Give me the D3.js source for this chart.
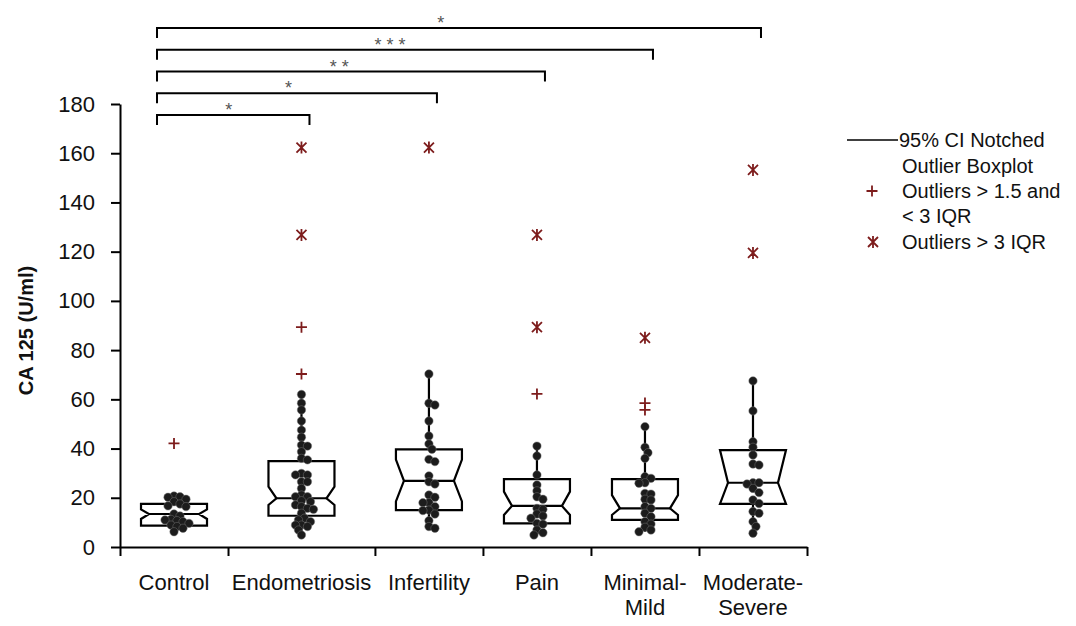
<!DOCTYPE html>
<html>
<head>
<meta charset="utf-8">
<script src="https://cdn.jsdelivr.net/npm/d3@7"></script>
<style>
  html, body { margin: 0; padding: 0; background: #ffffff; }
  svg { display: block; font-family: "Liberation Sans", Arial, sans-serif; }
</style>
</head>
<body>
<svg id="chart" width="1076" height="626"></svg>
<script>
// ---------------- DATA ----------------
const categories = ["Control", "Endometriosis", "Infertility", "Pain", "Minimal-Mild", "Moderate-Severe"];
const categoryLabels = [["Control"], ["Endometriosis"], ["Infertility"], ["Pain"], ["Minimal-", "Mild"], ["Moderate-", "Severe"]];

const q1Values     = [8.7, 12.7, 15.0, 9.6, 11.0, 17.5];
const medianValues = [13.4, 19.8, 26.9, 16.7, 15.7, 26.1];
const q3Values     = [17.5, 34.9, 39.7, 27.6, 27.6, 39.4];
const notchLow     = [11.4, 17.1, 18.5, 13.0, 13.0, 17.5];
const notchHigh    = [15.3, 24.5, 35.5, 22.5, 21.1, 39.4];

const controlPoints = [20.7, 20.4, 20.2, 19.4, 18.4, 17.5, 16.7, 16.4, 13.4, 12.6, 11.2, 11.0, 10.7, 10.3, 9.6, 8.9, 8.3, 7.6, 6.2];
const endometriosisPoints = [62.0, 58.4, 55.7, 51.2, 47.5, 44.6, 41.4, 41.0, 38.7, 36.0, 35.4, 29.9, 29.3, 29.3, 26.5, 26.5, 23.8, 21.1, 20.4, 20.4, 18.8, 18.4, 17.1, 16.4, 15.7, 15.3, 13.7, 11.7, 11.0, 10.3, 8.9, 8.9, 8.3, 6.9, 4.9];
const infertilityPoints = [70.3, 58.4, 57.7, 51.2, 45.1, 41.9, 39.7, 35.6, 34.7, 28.9, 26.5, 25.6, 21.1, 20.2, 18.0, 18.0, 16.4, 15.0, 14.8, 13.4, 10.7, 8.3, 7.6];
const painPoints = [41.0, 37.0, 29.3, 25.2, 22.8, 20.4, 19.4, 15.7, 15.3, 13.4, 12.6, 11.7, 9.6, 9.3, 6.9, 5.8, 4.9];
const minimalMildPoints = [48.9, 40.5, 38.3, 36.0, 28.6, 27.9, 26.1, 25.9, 21.8, 21.5, 19.4, 19.1, 16.4, 15.7, 13.7, 12.3, 10.3, 9.3, 8.0, 6.9, 6.2];
const moderateSeverePoints = [67.5, 55.3, 42.8, 40.5, 37.4, 33.7, 33.3, 26.1, 26.1, 25.6, 23.8, 22.1, 19.1, 17.7, 14.4, 13.7, 10.3, 8.3, 5.6];

const mildOutliers    = [[42.1], [89.3, 70.3], [], [62.2], [58.5, 55.7], []];
const extremeOutliers = [[], [162.3, 126.8], [162.3], [126.8, 89.3], [85.0], [153.2, 119.5]];

const sigGroups = ["Endometriosis", "Infertility", "Pain", "Minimal-Mild", "Moderate-Severe"];
const sigLabels = ["*", "*", "* *", "* * *", "*"];

const yTicks = [0, 20, 40, 60, 80, 100, 120, 140, 160, 180];
const yTitle = "CA 125 (U/ml)";
const legendLabels = [["95% CI Notched", "Outlier Boxplot"], ["Outliers > 1.5 and", "< 3 IQR"], ["Outliers > 3 IQR"]];

// ---------------- LAYOUT ----------------
const svg = d3.select("#chart");
const pointsByGroup = [controlPoints, endometriosisPoints, infertilityPoints, painPoints, minimalMildPoints, moderateSeverePoints];
const bandWeights = [1, 1.36, 1, 1, 1, 1];
const cum = [0]; bandWeights.forEach(w => cum.push(cum[cum.length - 1] + w));
const xUnit = d3.scaleLinear().domain([0, cum[cum.length - 1]]).range([120, 807]);
const xCenter = i => xUnit(cum[i] + bandWeights[i] / 2);
const y = d3.scaleLinear().domain([0, 180]).range([547, 104]);

const outlierColor = "#7d1c1c";
const boxW = 66, notchInset = 8;

// Y axis
const yAxisG = svg.append("g").attr("transform", "translate(120,0)")
  .call(d3.axisLeft(y).tickValues(yTicks).tickSize(9).tickSizeOuter(0).tickPadding(16));
yAxisG.select(".domain").attr("stroke", "#000").attr("stroke-width", 2);
yAxisG.selectAll(".tick line").attr("stroke", "#000").attr("stroke-width", 2);
yAxisG.selectAll(".tick text").attr("font-size", 22).attr("fill", "#111")
  .attr("font-family", "Liberation Sans, Arial, sans-serif");

// X axis (category boundaries)
const xAxisG = svg.append("g").attr("transform", `translate(0,${y(0)})`)
  .call(d3.axisBottom(xUnit).tickValues(cum).tickSize(9).tickSizeOuter(0).tickFormat(""));
xAxisG.select(".domain").attr("stroke", "#000").attr("stroke-width", 2);
xAxisG.selectAll(".tick line").attr("stroke", "#000").attr("stroke-width", 2);

// Category labels
categoryLabels.forEach((lines, i) => {
  const t = svg.append("text").attr("x", xCenter(i)).attr("y", 590)
    .attr("text-anchor", "middle").attr("font-size", 22).attr("fill", "#111");
  lines.forEach((ln, k) => t.append("tspan").attr("x", xCenter(i)).attr("dy", k === 0 ? 0 : 25).text(ln));
});

// Y title
svg.append("text").attr("transform", `translate(33,${(y(0) + y(180)) / 2 + 5}) rotate(-90)`)
  .attr("text-anchor", "middle").attr("font-size", 20).attr("font-weight", "bold").attr("fill", "#111")
  .text(yTitle);

// Boxes
categories.forEach((c, i) => {
  const cx = xCenter(i);
  const pts = pointsByGroup[i];
  const g = svg.append("g");
  // whiskers
  g.append("line").attr("x1", cx).attr("x2", cx).attr("y1", y(q3Values[i])).attr("y2", y(d3.max(pts)))
    .attr("stroke", "#000").attr("stroke-width", 2.2);
  g.append("line").attr("x1", cx).attr("x2", cx).attr("y1", y(q1Values[i])).attr("y2", y(d3.min(pts)))
    .attr("stroke", "#000").attr("stroke-width", 2.2);
  // notched box
  const L = cx - boxW / 2, R = cx + boxW / 2;
  const nh = Math.min(notchHigh[i], q3Values[i]), nl = Math.max(notchLow[i], q1Values[i]);
  const p = d3.path();
  p.moveTo(L, y(q3Values[i])); p.lineTo(R, y(q3Values[i]));
  p.lineTo(R, y(nh)); p.lineTo(R - notchInset, y(medianValues[i])); p.lineTo(R, y(nl));
  p.lineTo(R, y(q1Values[i])); p.lineTo(L, y(q1Values[i]));
  p.lineTo(L, y(nl)); p.lineTo(L + notchInset, y(medianValues[i])); p.lineTo(L, y(nh));
  p.closePath();
  g.append("path").attr("d", p.toString()).attr("fill", "none").attr("stroke", "#000").attr("stroke-width", 2.2)
    .attr("stroke-linejoin", "miter");
  g.append("line").attr("x1", L + notchInset).attr("x2", R - notchInset)
    .attr("y1", y(medianValues[i])).attr("y2", y(medianValues[i])).attr("stroke", "#000").attr("stroke-width", 2.2);

  // beeswarm points (deterministic placement)
  const placed = [];
  const minDist = 5.5;
  pts.forEach(v => {
    const py = y(v);
    let chosen = 0;
    for (let k = 0; k < 40; k++) {
      const off = (k === 0) ? 0 : (k % 2 === 1 ? 1 : -1) * Math.ceil(k / 2) * 3;
      const px = cx + off;
      if (placed.every(q => Math.hypot(q[0] - px, q[1] - py) >= minDist)) { chosen = off; break; }
    }
    placed.push([cx + chosen, py]);
  });
  g.selectAll("circle.pt").data(placed).join("circle").attr("class", "pt")
    .attr("cx", d => d[0]).attr("cy", d => d[1]).attr("r", 4.2)
    .attr("fill", "#1c1c1c").attr("stroke", "#777").attr("stroke-width", 0.8).attr("stroke-opacity", 0.6);

  // outliers
  mildOutliers[i].forEach(v => drawPlus(svg, cx, y(v)));
  extremeOutliers[i].forEach(v => drawStar(svg, cx, y(v)));
});

function drawPlus(sel, x0, y0) {
  const s = 5.5;
  sel.append("path").attr("d", `M${x0 - s},${y0}H${x0 + s}M${x0},${y0 - s}V${y0 + s}`)
    .attr("stroke", outlierColor).attr("stroke-width", 1.8).attr("fill", "none");
}
function drawStar(sel, x0, y0) {
  const s = 5, h = 6;
  sel.append("path").attr("d", `M${x0 - s},${y0 - s}L${x0 + s},${y0 + s}M${x0 + s},${y0 - s}L${x0 - s},${y0 + s}M${x0},${y0 - h}V${y0 + h}`)
    .attr("stroke", outlierColor).attr("stroke-width", 1.8).attr("fill", "none");
}

// Significance brackets
const bracketLeft = xCenter(0) - 17;
const bracketLevels = d3.scaleLinear().domain([0, sigGroups.length - 1]).range([115, 28]);
sigGroups.forEach((grp, k) => {
  const i = categories.indexOf(grp);
  const xr = xCenter(i) + 8;
  const ly = bracketLevels(k);
  svg.append("path").attr("d", `M${bracketLeft},${ly + 10}V${ly}H${xr}V${ly + 10}`)
    .attr("fill", "none").attr("stroke", "#000").attr("stroke-width", 2);
  svg.append("text").attr("x", bracketLeft + (xr - bracketLeft) * 0.47).attr("y", ly + 1)
    .attr("text-anchor", "middle").attr("font-size", 18).attr("fill", "#555").text(sigLabels[k]);
});

// Legend
const lg = svg.append("g");
lg.append("line").attr("x1", 847).attr("x2", 898).attr("y1", 140).attr("y2", 140).attr("stroke", "#000").attr("stroke-width", 1.5);
const legendRows = [[legendLabels[0][0], 140, 899], [legendLabels[0][1], 166, 902], [legendLabels[1][0], 191, 902], [legendLabels[1][1], 216, 902], [legendLabels[2][0], 242, 902]];
legendRows.forEach(r => {
  lg.append("text").attr("x", r[2]).attr("y", r[1]).attr("dy", "0.36em").attr("font-size", 20).attr("fill", "#111").text(r[0]);
});
drawPlus(lg, 872, 191);
drawStar(lg, 873, 242);
</script>
</body>
</html>
